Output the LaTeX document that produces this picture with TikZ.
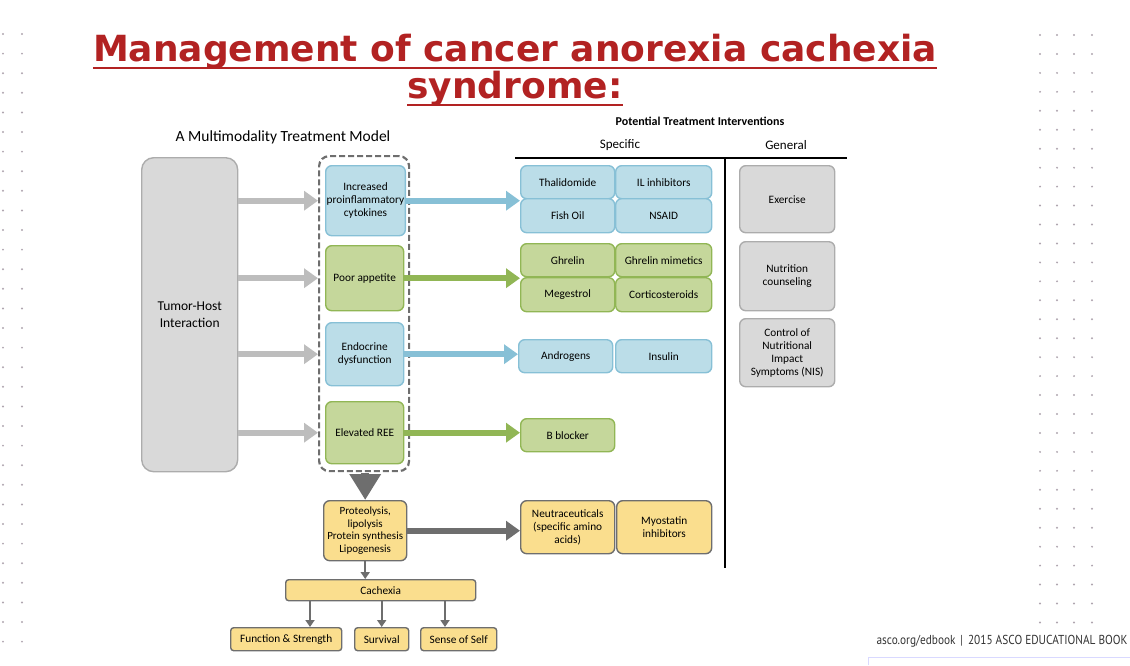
\documentclass[tikz,border=0pt]{standalone}
\usepackage{fontspec}
\setmainfont{Carlito}
\newfontfamily\titlefont{DejaVu Sans}
\newfontfamily\footfont{PT Sans}
\usetikzlibrary{arrows.meta,calc}
\definecolor{bluefill}{RGB}{187,221,232}
\definecolor{blueline}{RGB}{135,192,214}
\definecolor{greenfill}{RGB}{197,215,155}
\definecolor{greenline}{RGB}{145,182,85}
\definecolor{grayfill}{RGB}{217,217,217}
\definecolor{grayline}{RGB}{172,172,172}
\definecolor{yellowfill}{RGB}{250,222,142}
\definecolor{darkline}{RGB}{110,110,110}
\definecolor{titlered}{RGB}{178,34,34}
\definecolor{dotgray}{RGB}{175,165,175}
\begin{document}
\begin{tikzpicture}
	[
		x=1pt, y=-1pt,
		box/.style = {shape=rectangle, rounded corners=6pt, line width=1.4pt, inner sep=1pt, align=center, anchor=north west, font=\fontsize{11.3}{13}\selectfont},
		bluebox/.style = {box, fill=bluefill, draw=blueline},
		greenbox/.style = {box, fill=greenfill, draw=greenline},
		graybox/.style = {box, fill=grayfill, draw=grayline},
		yellowbox/.style = {box, fill=yellowfill, draw=darkline},
		fat/.style = {line width=6pt, -{Triangle[length=14pt, width=19pt]}},
		thin/.style = {line width=2pt, draw=darkline, -{Triangle[length=7pt, width=9pt]}},
		heading/.style = {font=\titlefont\bfseries\fontsize{36}{38}\selectfont, text=titlered, anchor=base, inner sep=0pt}
	]
	
	\useasboundingbox (0,0) rectangle (1130,665);
	
	% dots at the sides
	\foreach \y in {0,...,31} {
		\fill [dotgray] (3, {34 + 19.6*\y}) circle (1.1);
		\fill [dotgray] (22, {34 + 19.6*\y}) circle (1.1);
	}
	\foreach \x in {1040,1057,1074,1092} {
		\foreach \y in {0,...,31} {
			\fill [dotgray] (\x, {35 + 18.95*\y}) circle (1.1);
		}
	}
	
	% title
	\node (title1) [heading] at (515, 61) {Management of cancer anorexia cachexia};
	\node (title2) [heading] at (515, 98) {syndrome:};
	\draw [titlered, line width=2.6pt] ($(title1.base west)+(0,7)$) -- ($(title1.base east)+(0,7)$);
	\draw [titlered, line width=2.6pt] ($(title2.base west)+(0,7)$) -- ($(title2.base east)+(0,7)$);
	
	% headers
	\node (model) [font=\fontsize{15.5}{17}\selectfont] at (283, 137) {A Multimodality Treatment Model};
	\node (potential) [font=\bfseries\fontsize{12}{14}\selectfont] at (700, 121) {Potential Treatment Interventions};
	\node (specific) [font=\fontsize{13}{15}\selectfont] at (620, 145) {Specific};
	\node (general) [font=\fontsize{13}{15}\selectfont] at (786, 145) {General};
	\draw [line width=1.3pt] (515, 158) -- (847, 158);
	\draw [line width=1.3pt] (725, 158) -- (725, 568);
	
	% left part
	\node (tumor) [graybox, minimum width=96pt, minimum height=314pt, font=\fontsize{13.5}{17}\selectfont, rounded corners=12pt] at (141, 157) {Tumor-Host\\Interaction};
	\node (frame) [box, draw=darkline, dashed, dash pattern=on 6pt off 3pt, line width=2.2pt, rounded corners=10pt, minimum width=90pt, minimum height=315pt] at (318, 155) {};
	
	\node (cyto) [bluebox, minimum width=78pt, minimum height=70pt] at (325, 165) {Increased\\proinflammatory\\cytokines};
	\node (appetite) [greenbox, minimum width=78pt, minimum height=65pt] at (325, 245) {Poor appetite};
	\node (endo) [bluebox, minimum width=78pt, minimum height=63pt] at (325, 322) {Endocrine\\dysfunction};
	\node (ree) [greenbox, minimum width=78pt, minimum height=62pt] at (325, 401) {Elevated REE};
	
	% specific interventions
	\node (thal) [bluebox, minimum width=94pt, minimum height=33pt] at (520, 165) {Thalidomide};
	\node (il) [bluebox, minimum width=96pt, minimum height=33pt] at (615, 165) {IL inhibitors};
	\node (fish) [bluebox, minimum width=94pt, minimum height=34pt] at (520, 198) {Fish Oil};
	\node (nsaid) [bluebox, minimum width=96pt, minimum height=34pt] at (615, 198) {NSAID};
	\node (ghrelin) [greenbox, minimum width=94pt, minimum height=33pt] at (520, 243) {Ghrelin};
	\node (mimetics) [greenbox, minimum width=96pt, minimum height=33pt] at (615, 243) {Ghrelin mimetics};
	\node (megestrol) [greenbox, minimum width=94pt, minimum height=34pt] at (520, 277) {Megestrol};
	\node (cortico) [greenbox, minimum width=96pt, minimum height=34pt] at (615, 277) {Corticosteroids};
	\node (andro) [bluebox, minimum width=94pt, minimum height=33pt] at (518, 339) {Androgens};
	\node (insulin) [bluebox, minimum width=96pt, minimum height=33pt] at (615, 339) {Insulin};
	\node (bblock) [greenbox, minimum width=94pt, minimum height=33pt] at (520, 418) {B blocker};
	
	% general interventions
	\node (exercise) [graybox, minimum width=95pt, minimum height=67pt] at (739, 165) {Exercise};
	\node (nutrition) [graybox, minimum width=95pt, minimum height=69pt] at (739, 241) {Nutrition\\counseling};
	\node (nis) [graybox, minimum width=95pt, minimum height=68pt] at (739, 318) {Control of\\Nutritional\\Impact\\Symptoms (NIS)};
	
	% lower part
	\node (proteo) [yellowbox, minimum width=83pt, minimum height=60pt, font=\fontsize{11}{12.5}\selectfont] at (323, 500) {Proteolysis,\\lipolysis\\Protein synthesis\\Lipogenesis};
	\node (neutra) [yellowbox, minimum width=94pt, minimum height=53pt] at (520, 500) {Neutraceuticals\\(specific amino\\acids)};
	\node (myo) [yellowbox, minimum width=95pt, minimum height=53pt] at (616, 500) {Myostatin\\inhibitors};
	\node (cachexia) [yellowbox, rounded corners=3pt, minimum width=190pt, minimum height=21pt] at (285, 579) {Cachexia};
	\node (function) [yellowbox, rounded corners=3pt, minimum width=111pt, minimum height=23pt] at (230, 627) {Function \& Strength};
	\node (survival) [yellowbox, rounded corners=3pt, minimum width=54pt, minimum height=23pt] at (354, 627) {Survival};
	\node (self) [yellowbox, rounded corners=3pt, minimum width=76pt, minimum height=23pt] at (420, 627) {Sense of Self};
	
	% arrows
	\foreach \n in {cyto, appetite, endo, ree}
		\draw [fat, color=grayline!80] (tumor.east |- \n.west) -- (frame.west |- \n.west);
	\draw [fat, color=blueline] (cyto.east) -- (thal.west |- cyto.east);
	\draw [fat, color=greenline] (appetite.east) -- (ghrelin.west |- appetite.east);
	\draw [fat, color=blueline] (endo.east) -- (andro.west |- endo.east);
	\draw [fat, color=greenline] (ree.east) -- (bblock.west |- ree.east);
	\draw [fat, color=darkline] (proteo.east) -- (neutra.west |- proteo.east);
	\draw [line width=8pt, color=darkline, -{Triangle[length=26pt, width=30pt]}] (frame.south -| proteo.north) ++(0,1) -- (proteo.north);
	\draw [thin] (proteo.south) -- (cachexia.north -| proteo.south);
	\coordinate (fromleft) at (310, 601);
	\coordinate (fromright) at (445, 601);
	\draw [thin] (fromleft) -- (fromleft |- function.north);
	\draw [thin] (cachexia.south -| survival.north) -- (survival.north);
	\draw [thin] (fromright) -- (fromright |- self.north);
	
	% footer
	\node (footer) [anchor=west, font=\footfont\fontsize{13}{15}\selectfont, text=black!80] at (873, 641) {\scalebox{0.87}[1]{asco.org/edbook \,|\, 2015 ASCO EDUCATIONAL BOOK}};
	\draw [blue!15, line width=1pt] (868, 665) -- (868, 657) -- (1130, 657);
	
\end{tikzpicture}
\end{document}
